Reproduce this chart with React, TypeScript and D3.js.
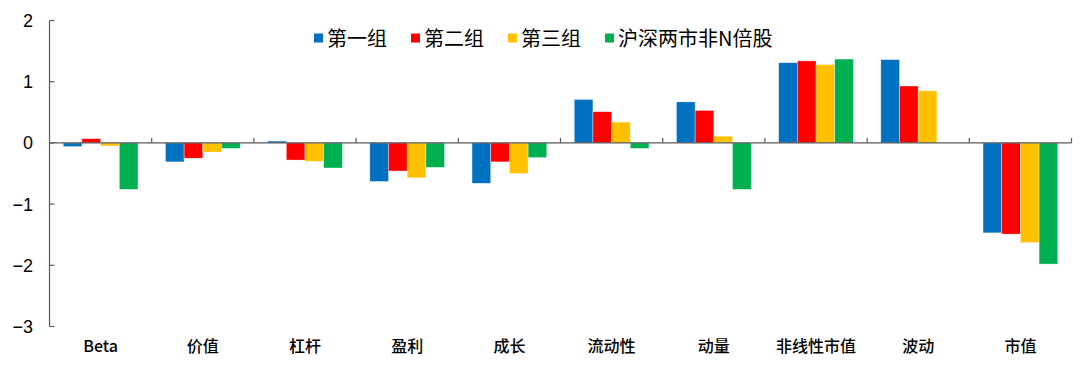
import React from "react";
import * as d3 from "d3";

const categories = ["Beta", "价值", "杠杆", "盈利", "成长", "流动性", "动量", "非线性市值", "波动", "市值"];
const seriesNames = ["第一组", "第二组", "第三组", "沪深两市非N倍股"];
const group1 = [-0.06, -0.31, 0.03, -0.63, -0.66, 0.71, 0.67, 1.31, 1.36, -1.47];
const group2 = [0.07, -0.25, -0.28, -0.46, -0.31, 0.51, 0.53, 1.34, 0.93, -1.49];
const group3 = [-0.05, -0.15, -0.3, -0.57, -0.5, 0.34, 0.11, 1.28, 0.85, -1.63];
const marketAll = [-0.76, -0.09, -0.41, -0.4, -0.24, -0.09, -0.76, 1.37, 0, -1.98];
const yTicks = [2, 1, 0, -1, -2, -3];
const colors = ["#0070C0", "#FF0000", "#FFC000", "#00B050"];

const W = 1080;
const H = 370;

export default function App() {
  const series = [group1, group2, group3, marketAll];
  const x = d3.scaleBand<string>().domain(categories).range([49.5, 1071.5]).paddingInner(0).paddingOuter(0);
  const xi = d3
    .scaleBand<number>()
    .domain(d3.range(series.length))
    .range([0, x.bandwidth()])
    .paddingInner(0)
    .paddingOuter(0.735);
  const y = d3.scaleLinear().domain([-3, 2]).range([326.5, 20.5]);
  const y0 = y(0);
  const axisColor = "#595959";
  const boundaries = categories.map((c) => (x(c) as number) + x.bandwidth());

  const legendX0 = 314;
  const legendStep = 97;

  return (
    <svg width={W} height={H} style={{ position: "absolute", left: 0, top: 0, background: "#fff" }}>
      {/* bars */}
      {series.map((vals, si) =>
        vals.map((v, ci) => {
          if (v === 0) return null;
          const bx = (x(categories[ci]) as number) + (xi(si) as number);
          const top = Math.min(y(v), y0);
          const h = Math.abs(y(v) - y0);
          return (
            <rect
              key={`${si}-${ci}`}
              x={bx}
              y={top}
              width={xi.bandwidth()}
              height={h}
              fill={colors[si]}
              stroke="#ffffff"
              strokeOpacity={0.6}
              strokeWidth={0.6}
            />
          );
        })
      )}
      {/* y axis */}
      <line x1={49.5} x2={49.5} y1={y(2)} y2={y(-3)} stroke={axisColor} strokeWidth={1.2} />
      {yTicks.map((t) => (
        <g key={t}>
          <line x1={49.5} x2={54.5} y1={y(t)} y2={y(t)} stroke={axisColor} strokeWidth={1.2} />
          <text
            x={33}
            y={y(t)}
            dy="0.36em"
            textAnchor="end"
            fontFamily="'Liberation Sans', Arial, sans-serif"
            fontSize={18}
            fill="#000"
          >
            {t < 0 ? `−${Math.abs(t)}` : t}
          </text>
        </g>
      ))}
      {/* x axis at zero */}
      <line x1={49.5} x2={1071.5} y1={y0} y2={y0} stroke={axisColor} strokeWidth={1.2} />
      {boundaries.map((bx, i) => (
        <line key={i} x1={bx} x2={bx} y1={y0} y2={y0 - 5} stroke={axisColor} strokeWidth={1.2} />
      ))}
      {categories.map((c) => (
        <text
          key={c}
          x={(x(c) as number) + x.bandwidth() / 2}
          y={352}
          textAnchor="middle"
          fontFamily="'Noto Sans CJK SC', sans-serif"
          fontSize={16}
          fontWeight={500}
          fill="#000"
        >
          {c}
        </text>
      ))}
      {/* legend */}
      {seriesNames.map((n, i) => (
        <g key={n} transform={`translate(${legendX0 + i * legendStep},0)`}>
          <rect x={0} y={33.5} width={9} height={9} fill={colors[i]} />
          <text
            x={13}
            y={38.5}
            dy="0.36em"
            fontFamily="'Noto Sans CJK SC', sans-serif"
            fontSize={20}
            fill="#000"
          >
            {n}
          </text>
        </g>
      ))}
    </svg>
  );
}
